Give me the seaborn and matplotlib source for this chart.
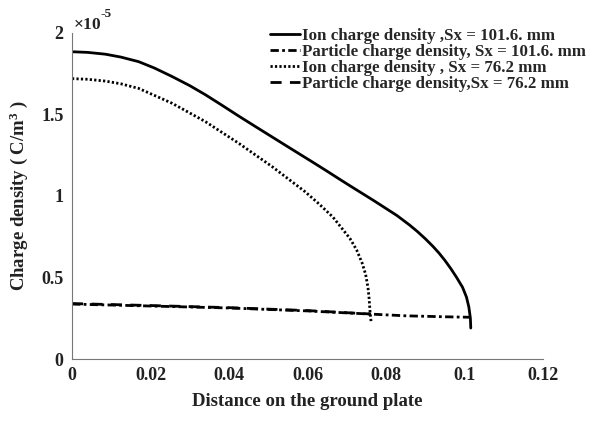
import numpy as np
import pandas as pd
import seaborn as sns
import matplotlib
matplotlib.use("Agg")
import matplotlib.pyplot as plt
from matplotlib.ticker import FixedLocator, FuncFormatter

# ---- data (charge density in units of 1e-5 C/m^3) ----
x_ion_1016 = [0, 0.004, 0.0085, 0.0125, 0.017, 0.021, 0.0255, 0.030, 0.034,
              0.038, 0.0425, 0.047, 0.051, 0.056, 0.0611, 0.065, 0.0683,
              0.0708, 0.077, 0.0828, 0.086, 0.088, 0.090, 0.092, 0.0935,
              0.095, 0.0965, 0.098, 0.0995, 0.1005, 0.1011, 0.1015, 0.1016]
y_ion_1016 = [1.885, 1.881, 1.870, 1.852, 1.824, 1.785, 1.733, 1.677, 1.621,
              1.560, 1.490, 1.422, 1.362, 1.287, 1.211, 1.152, 1.101,
              1.063, 0.970, 0.880, 0.822, 0.782, 0.738, 0.69, 0.65,
              0.605, 0.555, 0.50, 0.44, 0.38, 0.32, 0.25, 0.19]

x_par_1016 = [0, 0.02, 0.04, 0.06, 0.074, 0.085, 0.095, 0.1016]
y_par_1016 = [0.337, 0.325, 0.313, 0.295, 0.278, 0.265, 0.259, 0.256]

x_ion_762 = [0, 0.004, 0.0085, 0.0125, 0.017, 0.0255, 0.034, 0.0425, 0.051,
             0.0594, 0.063, 0.0665, 0.0708, 0.0725, 0.0739, 0.0748, 0.0754,
             0.0757, 0.0759, 0.0762]
y_ion_762 = [1.72, 1.716, 1.705, 1.688, 1.66, 1.569, 1.456, 1.323, 1.18,
             1.026, 0.95, 0.87, 0.74, 0.67, 0.59, 0.52, 0.44,
             0.37, 0.30, 0.227]

x_par_762 = [0, 0.02, 0.04, 0.06, 0.0762]
y_par_762 = [0.34, 0.328, 0.315, 0.297, 0.276]

labels = ["Ion charge density ,Sx = 101.6. mm",
          "Particle charge density, Sx = 101.6. mm",
          "Ion charge density , Sx = 76.2 mm",
          "Particle charge density,Sx = 76.2 mm"]

x_ticks = [0, 0.02, 0.04, 0.06, 0.08, 0.1, 0.12]
y_ticks = [0, 0.5, 1, 1.5, 2]

sns.set_theme(style="white")
plt.rcParams["font.family"] = ["Liberation Serif", "DejaVu Serif"]
plt.rcParams["font.weight"] = "bold"
plt.rcParams["mathtext.fontset"] = "custom"
plt.rcParams["mathtext.rm"] = "Liberation Serif:bold"
plt.rcParams["mathtext.it"] = "Liberation Serif:bold:italic"
plt.rcParams["mathtext.bf"] = "Liberation Serif:bold"

fig = plt.figure(figsize=(5.97, 4.21), dpi=100)
ax = fig.add_axes([72/597, 1 - 359/421, (543-72)/597, (359-33)/421])

series = [
    (x_ion_1016, y_ion_1016, labels[0], dict(linestyle="-", linewidth=2.0)),
    (x_par_1016, y_par_1016, labels[1], dict(linestyle=(0, (3.0, 1.2, 1.0, 1.2)), linewidth=2.0)),
    (x_ion_762, y_ion_762, labels[2], dict(linestyle=(0, (0.8, 0.8)), linewidth=2.0)),
    (x_par_762, y_par_762, labels[3], dict(linestyle=(0, (4.0, 3.0)), linewidth=2.0)),
]
for xs, ys, lab, kw in series:
    df = pd.DataFrame({"x": xs, "y": ys})
    sns.lineplot(data=df, x="x", y="y", ax=ax, color="black", label=lab,
                 estimator=None, sort=False, **kw)
for ln in ax.get_lines():
    ln.set_solid_joinstyle("round")
    ln.set_dash_joinstyle("round")

ax.set_xlim(0, 0.12)
ax.set_ylim(0, 2)
ax.xaxis.set_major_locator(FixedLocator(x_ticks))
ax.yaxis.set_major_locator(FixedLocator(y_ticks))
ax.xaxis.set_major_formatter(FuncFormatter(lambda v, p: f"{v:g}"))
ax.yaxis.set_major_formatter(FuncFormatter(lambda v, p: f"{v:g}"))
ax.tick_params(axis="both", direction="in", length=5, width=0.8, color="#777777",
               labelsize=13, labelcolor="#222222", pad=6)
for lbl in ax.get_xticklabels() + ax.get_yticklabels():
    lbl.set_fontweight("bold")
for s in ["top", "right"]:
    ax.spines[s].set_visible(False)
for s in ["left", "bottom"]:
    ax.spines[s].set_color("#777777")
    ax.spines[s].set_linewidth(0.8)

ax.set_xlabel("Distance on the ground plate", fontsize=13.5, fontweight="bold",
              color="#222222", labelpad=6)
ax.set_ylabel("Charge density ( C/m$^{3}$ )", fontsize=13.5, fontweight="bold",
              color="#222222", labelpad=8)

fig.text(73/597, 1 - 29/421, r"$\times$10", fontsize=12.5, color="#222222",
         ha="left", va="baseline")
fig.text(100/597, 1 - 17/421, "-5", fontsize=9.5, color="#222222",
         ha="left", va="baseline", fontweight="bold")

leg = ax.legend(loc="upper left", bbox_to_anchor=(270/597, 1 - 28/421),
                bbox_transform=fig.transFigure, frameon=False,
                prop={"weight": "bold", "size": 12.2}, labelspacing=0.0,
                handlelength=1.75, handletextpad=0.15, borderpad=0, borderaxespad=0)

fig.savefig("out.png", dpi=100)
